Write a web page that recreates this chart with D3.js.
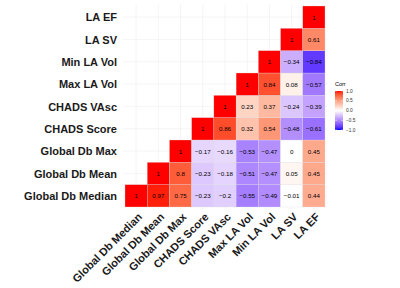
<!DOCTYPE html>
<html>
<head>
<meta charset="utf-8">
<script src="https://cdn.jsdelivr.net/npm/d3@7"></script>
<style>
  body { margin: 0; background: #fff; }
  svg { font-family: "Liberation Sans", Arial, sans-serif; }
</style>
</head>
<body>
<div class="canva"></div>
<script>
// variable names, bottom row / left column first
const vars = ["Global Db Median", "Global Db Mean", "Global Db Max", "CHADS Score",
              "CHADS VAsc", "Max LA Vol", "Min LA Vol", "LA SV", "LA EF"];

// lower triangle, row i holds corr of vars[i] with vars[i..8]
const corrRows = [
  [1, 0.97, 0.75, -0.23, -0.2, -0.55, -0.49, -0.01, 0.44],
  [1, 0.8, -0.23, -0.18, -0.51, -0.47, 0.05, 0.45],
  [1, -0.17, -0.16, -0.53, -0.47, 0, 0.45],
  [1, 0.86, 0.32, 0.54, -0.48, -0.61],
  [1, 0.23, 0.37, -0.24, -0.39],
  [1, 0.84, 0.08, -0.57],
  [1, -0.34, -0.84],
  [1, 0.61],
  [1]
];

const legendTicks = [1, 0.5, 0, -0.5, -1];

const cells = [];
corrRows.forEach((row, i) => {
  row.forEach((v, k) => {
    cells.push({ row: vars[i], col: vars[i + k], value: v });
  });
});

const W = 400, H = 288;
const svg = d3.select(".canva").append("svg")
  .attr("width", W)
  .attr("height", H);

const x = d3.scaleBand().domain(vars).range([125, 325]);
const y = d3.scaleBand().domain(vars).range([207, 6]);
const bw = x.bandwidth();

const color = v => v >= 0
  ? d3.interpolateLab("#ffffff", "#ff0000")(v)
  : d3.interpolateLab("#ffffff", "#0000ff")(-v);

// panel grid
const grid = svg.append("g");
grid.selectAll("line.v").data(vars).enter().append("line")
  .attr("x1", d => x(d) + bw / 2).attr("x2", d => x(d) + bw / 2)
  .attr("y1", 4).attr("y2", 209)
  .attr("stroke", "#ebebeb").attr("stroke-width", 0.5);
grid.selectAll("line.h").data(vars).enter().append("line")
  .attr("y1", d => y(d) + bw / 2).attr("y2", d => y(d) + bw / 2)
  .attr("x1", 123).attr("x2", 327)
  .attr("stroke", "#ebebeb").attr("stroke-width", 0.5);

// tiles
svg.append("g").selectAll("rect").data(cells).enter().append("rect")
  .attr("x", d => x(d.col))
  .attr("y", d => y(d.row))
  .attr("width", bw)
  .attr("height", y.bandwidth())
  .attr("fill", d => color(d.value))
  .attr("stroke", "#d9d9d9")
  .attr("stroke-width", 0.3);

svg.append("g").selectAll("text").data(cells).enter().append("text")
  .attr("x", d => x(d.col) + bw / 2)
  .attr("y", d => y(d.row) + y.bandwidth() / 2)
  .attr("text-anchor", "middle")
  .attr("dominant-baseline", "central")
  .attr("font-size", 6.2)
  .attr("fill", "#000")
  .text(d => d3.format("")(d.value));

// y axis labels
svg.append("g").selectAll("text").data(vars).enter().append("text")
  .attr("x", 117)
  .attr("y", d => y(d) + y.bandwidth() / 2)
  .attr("text-anchor", "end")
  .attr("dominant-baseline", "central")
  .attr("font-size", 11)
  .attr("font-weight", "bold")
  .attr("fill", "#1a1a1a")
  .text(d => d);

// x axis labels
svg.append("g").selectAll("text").data(vars).enter().append("text")
  .attr("transform", d => `translate(${x(d) + bw / 2 + 1}, 212) rotate(-45)`)
  .attr("text-anchor", "end")
  .attr("dy", "0.72em")
  .attr("font-size", 11)
  .attr("font-weight", "bold")
  .attr("fill", "#1a1a1a")
  .text(d => d);

// legend
const lg = svg.append("g");
const ly = d3.scaleLinear().domain([1, -1]).range([91, 130]);
const defs = svg.append("defs");
const grad = defs.append("linearGradient").attr("id", "corrgrad")
  .attr("x1", 0).attr("x2", 0).attr("y1", 0).attr("y2", 1);
d3.range(0, 21).forEach(i => {
  const v = 1 - i / 10;
  grad.append("stop").attr("offset", `${i * 5}%`).attr("stop-color", color(v));
});
lg.append("rect")
  .attr("x", 335).attr("y", ly(1))
  .attr("width", 8).attr("height", ly(-1) - ly(1))
  .attr("fill", "url(#corrgrad)");
lg.selectAll("line").data(legendTicks).enter().append("g")
  .each(function (d) {
    const g = d3.select(this);
    g.append("line").attr("x1", 335).attr("x2", 337)
      .attr("y1", ly(d)).attr("y2", ly(d)).attr("stroke", "#fff").attr("stroke-width", 0.5);
    g.append("line").attr("x1", 341).attr("x2", 343)
      .attr("y1", ly(d)).attr("y2", ly(d)).attr("stroke", "#fff").attr("stroke-width", 0.5);
  });
lg.selectAll("text.t").data(legendTicks).enter().append("text")
  .attr("x", 346)
  .attr("y", d => ly(d))
  .attr("dominant-baseline", "central")
  .attr("font-size", 4.8)
  .attr("fill", "#333")
  .text(d => d3.format(".1f")(d));
lg.append("text")
  .attr("x", 335).attr("y", 86)
  .attr("font-size", 5.5)
  .attr("fill", "#000")
  .text("Corr");
</script>
</body>
</html>
